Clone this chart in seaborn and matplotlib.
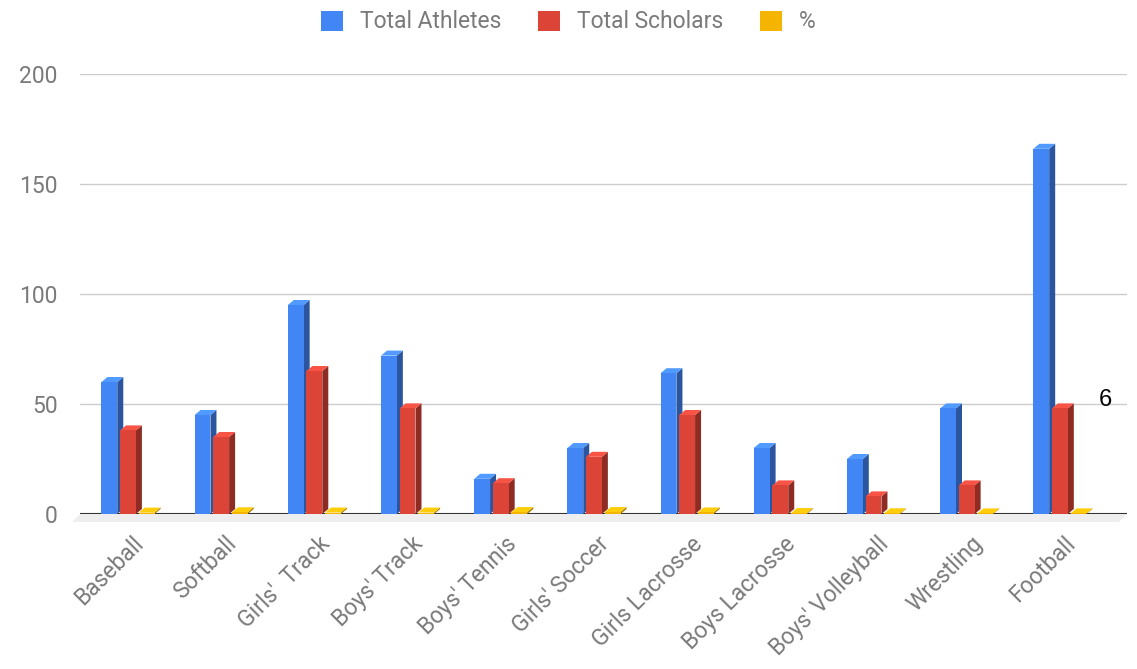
import numpy as np
import pandas as pd
import seaborn as sns
import matplotlib.pyplot as plt
from matplotlib.patches import Polygon
from matplotlib.transforms import IdentityTransform, ScaledTranslation
from matplotlib.colors import to_rgb

sports = ["Baseball", "Softball", "Girls'  Track", "Boys' Track", "Boys' Tennis",
          "Girls' Soccer", "Girls Lacrosse", "Boys Lacrosse", "Boys' Volleyball",
          "Wrestling", "Football"]
athletes = [60, 45, 95, 72, 16, 30, 64, 30, 25, 48, 166]
scholars = [38, 35, 65, 48, 14, 26, 45, 13, 8, 13, 48]
pct = [0.63, 0.78, 0.68, 0.67, 0.88, 0.87, 0.70, 0.43, 0.32, 0.27, 0.29]
series = ["Total Athletes", "Total Scholars", "%"]
colors = ["#4285F4", "#DB4437", "#F4B400"]

df = pd.DataFrame({
    "sport": sports * 3,
    "series": [series[0]] * 11 + [series[1]] * 11 + [series[2]] * 11,
    "value": athletes + scholars + pct,
})

sns.set_style("white")
plt.rcParams['font.family'] = ['Roboto', 'DejaVu Sans']
grey = "#7a7a7a"
fs = 16.5

fig = plt.figure(figsize=(11.37, 6.69), dpi=100)
ax = fig.add_axes([80 / 1137, 155 / 669, 1047 / 1137, 440 / 669])

sns.barplot(data=df, x="sport", y="value", hue="series", palette=colors,
            width=0.6, gap=0.15, saturation=1, ax=ax, zorder=3, legend=True,
            linewidth=0, edgecolor="none")

ax.set_ylim(0, 200)
ax.set_xlim(-0.515, 10.72)
ax.set_yticks([0, 50, 100, 150, 200])
ax.yaxis.grid(True, color="#cccccc", lw=1)
ax.set_axisbelow(True)
ax.axhline(0, color="#333333", lw=1.5, zorder=2)
sns.despine(ax=ax, left=True, bottom=True, top=True, right=True)
ax.set_xlabel("")
ax.set_ylabel("")
ax.tick_params(axis="both", length=0, labelsize=fs, labelcolor=grey)
ax.tick_params(axis="y", pad=16)
ax.tick_params(axis="x", pad=19)
shift = ScaledTranslation(12 / 100, 0, fig.dpi_scale_trans)
for lab in ax.get_xticklabels():
    lab.set_rotation(45)
    lab.set_ha("right")
    lab.set_va("center")
    lab.set_rotation_mode("anchor")
    lab.set_transform(lab.get_transform() + shift)

# pseudo-3D faces
dx, dy = 6, 5
for cont, col in zip(ax.containers, colors):
    r, g, b = to_rgb(col)
    side = (r * 0.65, g * 0.65, b * 0.65)
    top = tuple(min(1, c * 1.08 + 0.04) for c in (r, g, b))
    for bar in cont:
        x0, w, h = bar.get_x(), bar.get_width(), bar.get_height()
        br = ax.transData.transform((x0 + w, 0))
        tr = ax.transData.transform((x0 + w, h))
        tl = ax.transData.transform((x0, h))
        d = np.array([dx, dy])
        ax.add_patch(Polygon([br, br + d, tr + d, tr], closed=True, fc=side, ec="none",
                             transform=IdentityTransform(), zorder=2.5, clip_on=False))
        ax.add_patch(Polygon([tl, tr, tr + d, tl + d], closed=True, fc=top, ec="none",
                             transform=IdentityTransform(), zorder=2.5, clip_on=False))

# floor band
x_l = ax.transData.transform((-0.515, 0))
x_r = ax.transData.transform((10.72, 0))
fd = np.array([-8, -8])
ax.add_patch(Polygon([x_l, x_r, x_r + fd, x_l + fd], closed=True, fc="#eeeeee", ec="none",
                     transform=IdentityTransform(), zorder=1, clip_on=False))

ax.text(10.42, 52, "6", fontsize=17, color="black", va="center", ha="left",
        family="Liberation Sans")

handles, labels = ax.get_legend_handles_labels()
ax.legend(handles, labels, loc="center", bbox_to_anchor=(0.5, 1 - 22 / 669),
          bbox_transform=fig.transFigure, ncol=3, frameon=False, fontsize=fs,
          labelcolor=grey, handlelength=0.95, handleheight=0.95, columnspacing=1.6,
          handletextpad=0.75)

fig.savefig("out.png", dpi=100)
